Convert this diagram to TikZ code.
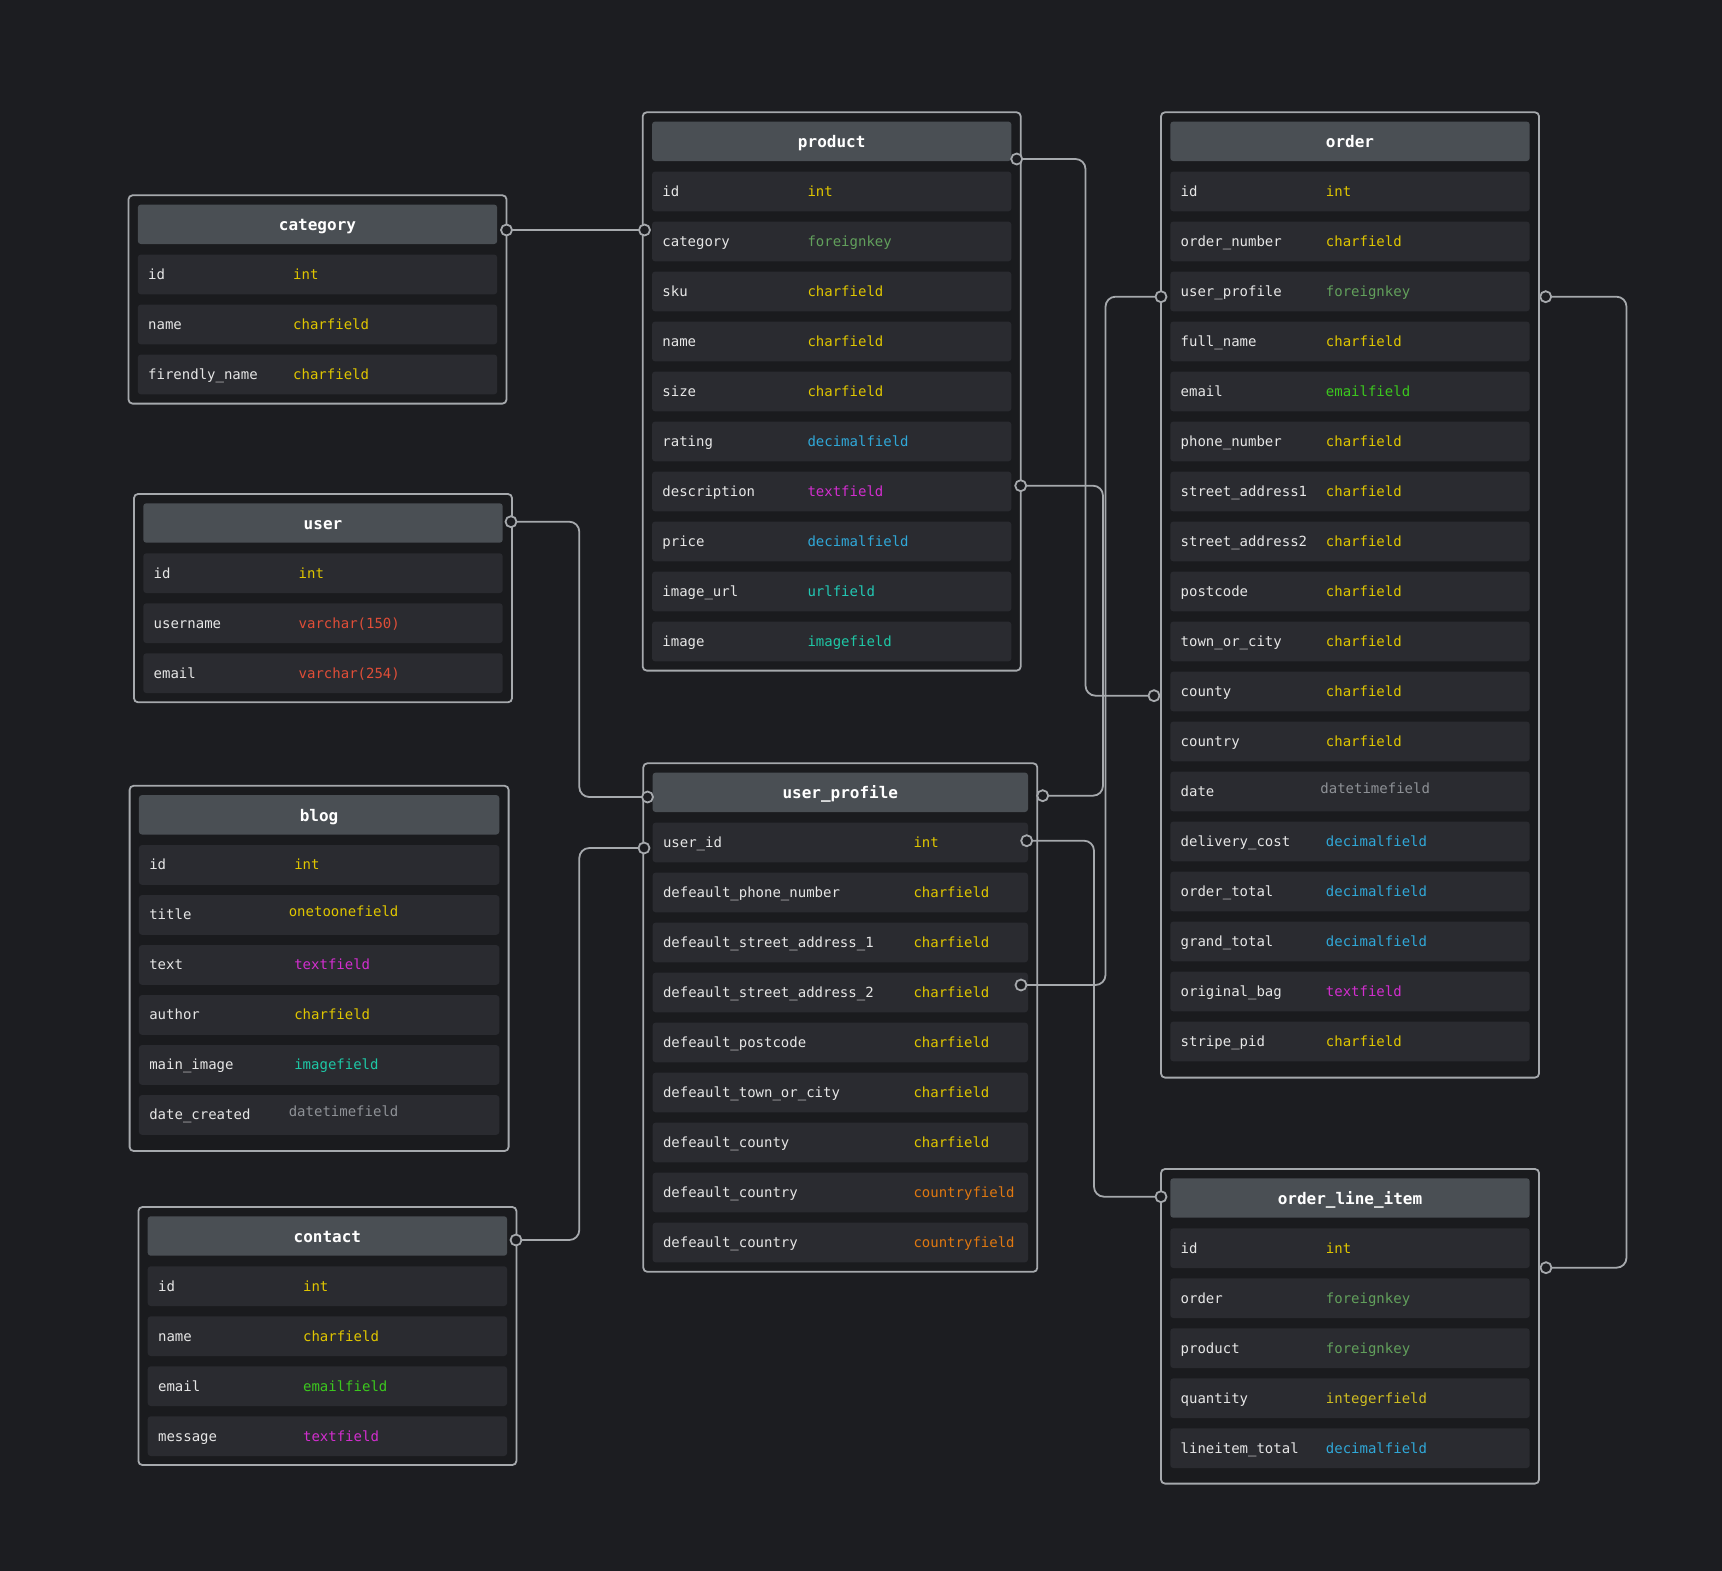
\documentclass[tikz,border=0pt]{standalone}
\usepackage{fontspec}
\setmonofont{DejaVu Sans Mono}
\usetikzlibrary{calc}
\definecolor{bg}{HTML}{1C1D21}
\definecolor{framefill}{HTML}{1A1B1E}
\definecolor{framedraw}{HTML}{A6A9AD}
\definecolor{headfill}{HTML}{4A4F54}
\definecolor{rowfill}{HTML}{2A2B30}
\definecolor{lblc}{HTML}{E6E6E6}
\definecolor{linec}{HTML}{A6A9AD}
\definecolor{cyel}{HTML}{E0C600}
\definecolor{cint}{HTML}{D0BE22}
\definecolor{cfk}{HTML}{62A05C}
\definecolor{cdec}{HTML}{30A8D8}
\definecolor{ctext}{HTML}{D22ECE}
\definecolor{cimg}{HTML}{1EC8A6}
\definecolor{curl}{HTML}{22C8B4}
\definecolor{cmail}{HTML}{3CC81E}
\definecolor{cvar}{HTML}{E04E38}
\definecolor{ccountry}{HTML}{E07810}
\definecolor{cdt}{HTML}{8E9196}
\tikzset{
  frame/.style={draw=framedraw, fill=framefill, line width=1.8pt, rounded corners=4pt},
  headbox/.style={fill=headfill, rounded corners=3pt},
  rowbox/.style={fill=rowfill, rounded corners=3pt},
  lbl/.style={anchor=base west, inner sep=0pt, text=lblc, font=\ttfamily\fontsize{14}{16}\selectfont},
  typ/.style={anchor=base west, inner sep=0pt, font=\ttfamily\fontsize{14}{16}\selectfont},
  ttl/.style={anchor=base, inner sep=0pt, text=white, font=\ttfamily\bfseries\fontsize{16}{18}\selectfont},
  conn/.style={draw=linec, line width=1.8pt, rounded corners=10pt},
  port/.style={circle, draw=linec, fill=bg, line width=1.8pt, minimum size=11pt, inner sep=0pt},
}
% table: #1 name, #2 left, #3 top, #4 width, #5 rows, #6 bottom pad, #7 type x offset, #8 title
\newcommand\dbtab[8]{%
  \def\tN{#1}\def\tL{#2}\def\tT{#3}\def\tW{#4}\def\tTX{#7}%
  \pgfmathsetmacro\tB{#3+59.3+50*(#5-1)+39.7+#6}%
  \draw[frame] (#2,#3) rectangle (#2+#4,\tB);
  \fill[headbox] (#2+9.3,#3+9.3) rectangle (#2+#4-9.3,#3+48.7);
  \node[ttl] (#1-title) at (#2+#4/2,#3+35.5) {#8};
}
% row: [#1 shift], #2 index, #3 label, #4 type, #5 colour
\newcommand\dbrow[5][0]{%
  \pgfmathsetmacro\rT{\tT+59.3+50*#2}%
  \fill[rowbox] (\tL+9.3,\rT) rectangle (\tL+\tW-9.3,\rT+39.7);
  \node[lbl] (\tN-#2-l) at (\tL+19.5,\rT+24.85) {#3};
  \node[typ, text=#5] (\tN-#2-t) at (\tL+\tTX-#1*5.5,\rT+24.85-#1*3.3) {#4};
}
\begin{document}
\begin{tikzpicture}[x=1pt,y=-1pt]
\fill[bg] (0,0) rectangle (1722,1571);
\useasboundingbox (0,0) rectangle (1722,1571);

% category
\dbtab{cat}{128.5}{195.3}{378}{3}{9.3}{164.5}{category}
\dbrow{0}{id}{int}{cyel}
\dbrow{1}{name}{charfield}{cyel}
\dbrow{2}{firendly\_name}{charfield}{cyel}

% user
\dbtab{usr}{134}{494}{378}{3}{9.3}{164.5}{user}
\dbrow{0}{id}{int}{cyel}
\dbrow{1}{username}{varchar(150)}{cvar}
\dbrow{2}{email}{varchar(254)}{cvar}

% blog
\dbtab{blog}{129.6}{785.8}{379}{6}{16.2}{164.5}{blog}
\dbrow{0}{id}{int}{cyel}
\dbrow[1]{1}{title}{onetoonefield}{cyel}
\dbrow{2}{text}{textfield}{ctext}
\dbrow{3}{author}{charfield}{cyel}
\dbrow{4}{main\_image}{imagefield}{cimg}
\dbrow[1]{5}{date\_created}{datetimefield}{cdt}

% contact
\dbtab{con}{138.4}{1207}{378}{4}{9}{164.5}{contact}
\dbrow{0}{id}{int}{cyel}
\dbrow{1}{name}{charfield}{cyel}
\dbrow{2}{email}{emailfield}{cmail}
\dbrow{3}{message}{textfield}{ctext}

% product
\dbtab{prod}{642.7}{112.3}{378}{10}{9.3}{164.6}{product}
\dbrow{0}{id}{int}{cyel}
\dbrow{1}{category}{foreignkey}{cfk}
\dbrow{2}{sku}{charfield}{cyel}
\dbrow{3}{name}{charfield}{cyel}
\dbrow{4}{size}{charfield}{cyel}
\dbrow{5}{rating}{decimalfield}{cdec}
\dbrow{6}{description}{textfield}{ctext}
\dbrow{7}{price}{decimalfield}{cdec}
\dbrow{8}{image\_url}{urlfield}{curl}
\dbrow{9}{image}{imagefield}{cimg}

% user_profile
\dbtab{up}{643.3}{763.3}{394}{9}{9.5}{270}{user\_profile}
\dbrow{0}{user\_id}{int}{cyel}
\dbrow{1}{defeault\_phone\_number}{charfield}{cyel}
\dbrow{2}{defeault\_street\_address\_1}{charfield}{cyel}
\dbrow{3}{defeault\_street\_address\_2}{charfield}{cyel}
\dbrow{4}{defeault\_postcode}{charfield}{cyel}
\dbrow{5}{defeault\_town\_or\_city}{charfield}{cyel}
\dbrow{6}{defeault\_county}{charfield}{cyel}
\dbrow{7}{defeault\_country}{countryfield}{ccountry}
\dbrow{8}{defeault\_country}{countryfield}{ccountry}

% order
\dbtab{ord}{1161}{112.3}{378}{18}{16.3}{164.7}{order}
\dbrow{0}{id}{int}{cyel}
\dbrow{1}{order\_number}{charfield}{cyel}
\dbrow{2}{user\_profile}{foreignkey}{cfk}
\dbrow{3}{full\_name}{charfield}{cyel}
\dbrow{4}{email}{emailfield}{cmail}
\dbrow{5}{phone\_number}{charfield}{cyel}
\dbrow{6}{street\_address1}{charfield}{cyel}
\dbrow{7}{street\_address2}{charfield}{cyel}
\dbrow{8}{postcode}{charfield}{cyel}
\dbrow{9}{town\_or\_city}{charfield}{cyel}
\dbrow{10}{county}{charfield}{cyel}
\dbrow{11}{country}{charfield}{cyel}
\dbrow[1]{12}{date}{datetimefield}{cdt}
\dbrow{13}{delivery\_cost}{decimalfield}{cdec}
\dbrow{14}{order\_total}{decimalfield}{cdec}
\dbrow{15}{grand\_total}{decimalfield}{cdec}
\dbrow{16}{original\_bag}{textfield}{ctext}
\dbrow{17}{stripe\_pid}{charfield}{cyel}

% order_line_item
\dbtab{oli}{1161}{1169}{378}{5}{15.6}{164.7}{order\_line\_item}
\dbrow{0}{id}{int}{cyel}
\dbrow{1}{order}{foreignkey}{cfk}
\dbrow{2}{product}{foreignkey}{cfk}
\dbrow{3}{quantity}{integerfield}{cint}
\dbrow{4}{lineitem\_total}{decimalfield}{cdec}

% ports
\coordinate (cat-r) at (506.5,230);
\coordinate (prod-cat) at (644.5,230);
\coordinate (prod-h) at (1016.7,159);
\coordinate (prod-desc) at (1020.7,485.7);
\coordinate (usr-r) at (511,521.7);
\coordinate (up-hl) at (647.5,797);
\coordinate (up-uid-l) at (644,848);
\coordinate (up-hr) at (1042.7,795.7);
\coordinate (up-uid-r) at (1026.7,840.7);
\coordinate (up-sa2) at (1021,985);
\coordinate (con-r) at (516,1240);
\coordinate (ord-up-l) at (1161,296.7);
\coordinate (ord-up-r) at (1545.7,296.7);
\coordinate (ord-county) at (1154,695.7);
\coordinate (oli-l) at (1161,1196.7);
\coordinate (oli-r) at (1546,1267.7);
% routing columns
\coordinate (colA) at (579.3,0);
\coordinate (colB) at (1085.5,0);
\coordinate (colC) at (1103,0);
\coordinate (colD) at (1094,0);
\coordinate (colE) at (1105.5,0);
\coordinate (colF) at (1626.5,0);

% connectors
\draw[conn] (cat-r) -- (prod-cat);
\draw[conn] (prod-h) -- (prod-h -| colB) -- (ord-county -| colB) -- (ord-county);
\draw[conn] (prod-desc) -- (prod-desc -| colC) -- (up-hr -| colC) -- (up-hr);
\draw[conn] (usr-r) -- (usr-r -| colA) -- (up-hl -| colA) -- (up-hl);
\draw[conn] (con-r) -- (con-r -| colA) -- (up-uid-l -| colA) -- (up-uid-l);
\draw[conn] (up-uid-r) -- (up-uid-r -| colD) -- (oli-l -| colD) -- (oli-l);
\draw[conn] (up-sa2) -- (up-sa2 -| colE) -- (ord-up-l -| colE) -- (ord-up-l);
\draw[conn] (ord-up-r) -- (ord-up-r -| colF) -- (oli-r -| colF) -- (oli-r);

% port circles
\foreach \p in {cat-r,prod-cat,prod-h,prod-desc,usr-r,up-hl,up-uid-l,up-hr,up-uid-r,up-sa2,con-r,ord-up-l,ord-up-r,ord-county,oli-l,oli-r}
  \node[port] (pt-\p) at (\p) {};
\end{tikzpicture}
\end{document}
